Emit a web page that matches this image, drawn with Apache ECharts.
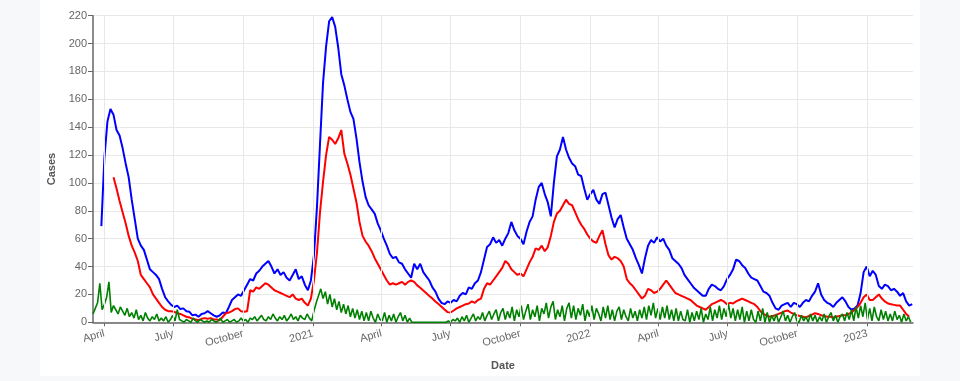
<!DOCTYPE html>
<html>
<head>
<meta charset="utf-8">
<script src="https://cdn.jsdelivr.net/npm/echarts@6/dist/echarts.min.js"></script>
<style>
  html, body { margin: 0; padding: 0; background: #f7f8f9; }
  #card { position: absolute; left: 40px; top: 0; width: 880px; height: 376px; background: #ffffff; }
  #chart { position: absolute; left: 0; top: 0; width: 960px; height: 381px; }
</style>
</head>
<body>
<div id="card"></div>
<div id="chart"></div>
<script>
// ---- data ----
var axisStart = '2020-03-17';
var axisEnd = '2023-03-02';

// blue series: one value every 4 days, starting 2020-03-28
var blueStart = '2020-03-28';
var blueStepDays = 4;
var blueValues = [
  69,118,144,153,149,138,134,125,114,104,
  88,74,60,55,52,45,38,36,34,31,
  24,18,15,12.5,11,12,9.5,10,8,7.5,
  5,5.5,4,6,6.5,8,6.5,5,4,5,
  7,6.5,11,16,18,20,19,23,27,31,
  30,35,37,40,42,44,40,35,38,34,
  36,32,30,34,38,31,33,27,23,30,
  48,83,128,172,198,216,219,212,197,178,
  170,160,151,146,132,115,101,90,84,81,
  78,71,66,60,55,49,46,47,43,42,
  38,35,32,42,38,42,36,33,30,25,
  22,17,14,13,15,14,16,15,19,21,
  20,25,24,28,30,36,45,54,56,61,
  57,59,55,60,64,72,66,62,60,56,
  65,72,76,88,97,100,92,86,76,100,
  119,124,133,124,118,114,112,106,105,96,
  88,92,95,88,85,92,93,84,75,68,
  74,77,68,60,56,52,46,41,35,46,
  55,59,57,61,58,60,55,52,46,44,
  42,39,34,31,28,25,23,21,19,19,
  24,27,26,24,23,26,31,34,38,45,
  44,41,39,35,32,31,30,26,22,21,
  19,14,10,9,12,13,14,11,14,13,
  11,14,16,15,19,22,28,20,16,14,
  13,11,14,16,18,15,11,9,10,12,
  21,36,40,33,37,34,26,24,27,26,
  23,24,22,19,21,15,12,13
];

// red series: one value every 4 days, starting 2020-04-13
var redStart = '2020-04-13';
var redStepDays = 4;
var redValues = [
  104,96,87,79,71,62,55,50,44,34,
  31,28,25,20,17,14,11,9,8,8,
  7.5,6.5,6,5,4,3.5,2.5,2,1.5,2.5,
  3,2.5,3,2,2,1.5,4,6.5,7,8,
  9.5,10,8,7.5,8,23,22,25,24,26,
  28,27,25,23,22,21,20,19,18,20,
  17,16,17,14,12,17,30,50,79,101,
  120,133,131,128,132,138,121,114,106,96,
  86,72,62,58,55,51,46,42,38,34,
  30,27,28,27,28,29,27,29,30,29,
  26.5,24.8,22.8,20.9,18.9,17,15,13.1,11.2,9.2,
  7.3,7,8.5,10,11,12,13,13.5,15,14,
  16,17,24,28,27,30,33,36,39,44,
  42,38,36,34,35,33,38,43,47,53,
  52,55,51,54,62,72,78,80,84,88,
  85,84,79,74,70,67,63,60,58,57,
  62,66,56,48,45,47,46,44,40,31,
  28,26,23,20,17,19,24,23,21,22,
  24,27,30,27,24,21,20,19,18,17,
  16,14,12,11,10,9,11,13,14,15,
  16,15,13,14,13.5,15,16,17,16,15,
  14,13,11,8,6,5,4,4.5,5,6,
  7,8,8.5,7,6,5,4.5,4,3.5,4.5,
  5.5,6.5,6,5,4.5,4,4,3.5,4,4.5,
  5,5,6,7,9,11,14,18,20,16,
  16,18,20,17,15,13.5,13,12.5,12,12,
  9,6,4
];

// green series: one value every 3 days, starting 2020-03-17
var greenStart = '2020-03-17';
var greenStepDays = 3;
var greenValues = [
  6,10,14,28,9,13,18,29,7,12,
  9,6,11,8,5,10,4,7,3,9,
  2,5,1,7,3,1,4,2,6,1,
  3,1,4,0,2,5,1,9,2,1,
  0,2,1,0,3,1,0,2,1,0,
  1,0,2,1,0,1,3,0,1,2,
  0,1,2,0,1,3,1,2,0,3,
  2,4,1,3,5,2,1,4,2,6,
  3,1,4,2,5,1,3,6,2,4,
  1,5,3,2,6,3,1,8,14,19,
  24,17,22,13,20,11,17,9,15,7,
  13,6,12,4,10,3,9,2,8,1,
  7,1,8,3,0,6,2,1,7,0,
  5,1,6,0,4,7,1,5,0,3,
  0,0,0,0,0,0,0,0,0,0,
  0,0,0,0,0,0,1,0,2,1,
  3,0,4,1,5,0,3,6,1,4,
  2,7,1,5,8,2,6,9,1,7,
  10,2,8,3,11,1,9,4,12,2,
  8,13,2,9,4,12,1,10,6,14,
  3,11,15,2,9,4,12,1,10,14,
  3,12,2,10,5,13,1,9,4,12,
  2,10,6,1,11,3,12,2,9,1,
  8,11,2,9,4,1,10,3,8,1,
  9,3,11,2,12,5,14,3,10,2,
  11,3,12,2,9,1,10,1,8,2,
  1,9,0,7,1,8,2,10,0,6,
  2,11,1,9,3,12,2,10,4,13,
  3,10,1,9,2,11,0,8,1,9,
  2,0,8,1,10,0,7,0,5,1,
  6,0,4,8,1,5,0,4,7,1,
  0,5,1,4,0,6,1,5,0,4,
  1,6,0,4,7,1,5,0,4,6,
  1,7,2,9,1,11,3,12,4,14,
  2,10,1,11,4,1,9,2,8,1,
  6,1,8,2,5,0,6,1,4,0
];

// x-axis ticks
var tickDates = ['2020-04-01','2020-07-01','2020-10-01','2021-01-01','2021-04-01','2021-07-01','2021-10-01','2022-01-01','2022-04-01','2022-07-01','2022-10-01','2023-01-01'];
var tickLabels = ['April','July','October','2021','April','July','October','2022','April','July','October','2023'];

// y-axis
var yMin = 0, yMax = 220, yStep = 20;

// ---- build ----
var DAY = 86400000;
function ts(s) { var p = s.split('-'); return Date.UTC(+p[0], +p[1] - 1, +p[2]); }
function build(start, step, vals) {
  var t0 = ts(start);
  return vals.map(function (v, i) { return [t0 + i * step * DAY, v]; });
}
var tickTs = tickDates.map(ts);
var labelMap = {};
tickTs.forEach(function (t, i) { labelMap[t] = tickLabels[i]; });

var font = '"Liberation Sans", Arial, sans-serif';
var gridColor = '#e8e8e8';
var chart = echarts.init(document.getElementById('chart'), null, { renderer: 'canvas' });
chart.setOption({
  animation: false,
  backgroundColor: 'transparent',
  grid: { left: 93, right: 47, top: 15.7, bottom: 58.7, containLabel: false },
  xAxis: {
    type: 'value',
    min: ts(axisStart),
    max: ts(axisEnd),
    name: 'Date',
    nameLocation: 'middle',
    nameGap: 38,
    nameTextStyle: { fontFamily: font, fontSize: 11, fontWeight: 'bold', color: '#555' },
    axisLine: { show: true, lineStyle: { color: '#666', width: 1.5 } },
    axisTick: { show: true, length: 4, lineStyle: { color: '#666' }, customValues: tickTs },
    axisLabel: {
      customValues: tickTs,
      rotate: 15,
      fontFamily: font, fontSize: 11, color: '#666', margin: 11,
      formatter: function (v) { return labelMap[v] || ''; }
    },
    splitLine: { show: false }
  },
  yAxis: {
    type: 'value',
    min: yMin, max: yMax, interval: yStep,
    name: 'Cases',
    nameLocation: 'middle',
    nameGap: 36,
    nameTextStyle: { fontFamily: font, fontSize: 11, fontWeight: 'bold', color: '#555' },
    axisLine: { show: true, lineStyle: { color: '#666', width: 1.5 } },
    axisTick: { show: true, length: 5, lineStyle: { color: '#666' } },
    axisLabel: { fontFamily: font, fontSize: 11, color: '#666', margin: 6 },
    splitLine: { show: true, lineStyle: { color: gridColor, width: 1 } }
  },
  series: [
    { type: 'line', name: 'vgrid', data: [], z: 1, silent: true,
      markLine: {
        silent: true, symbol: ['none', 'none'], label: { show: false },
        lineStyle: { color: gridColor, width: 1, type: 'solid' },
        emphasis: { disabled: true },
        data: tickTs.map(function (t) { return { xAxis: t }; })
      } },
    { type: 'line', name: 'blue', data: build(blueStart, blueStepDays, blueValues), showSymbol: false, symbol: 'none',
      lineStyle: { color: '#0000ff', width: 2 }, itemStyle: { color: '#0000ff' } },
    { type: 'line', name: 'red', data: build(redStart, redStepDays, redValues), showSymbol: false, symbol: 'none',
      lineStyle: { color: '#ff0000', width: 2 }, itemStyle: { color: '#ff0000' } },
    { type: 'line', name: 'green', data: build(greenStart, greenStepDays, greenValues), showSymbol: false, symbol: 'none',
      lineStyle: { color: '#008000', width: 1.6 }, itemStyle: { color: '#008000' } }
  ]
});
</script>
</body>
</html>
